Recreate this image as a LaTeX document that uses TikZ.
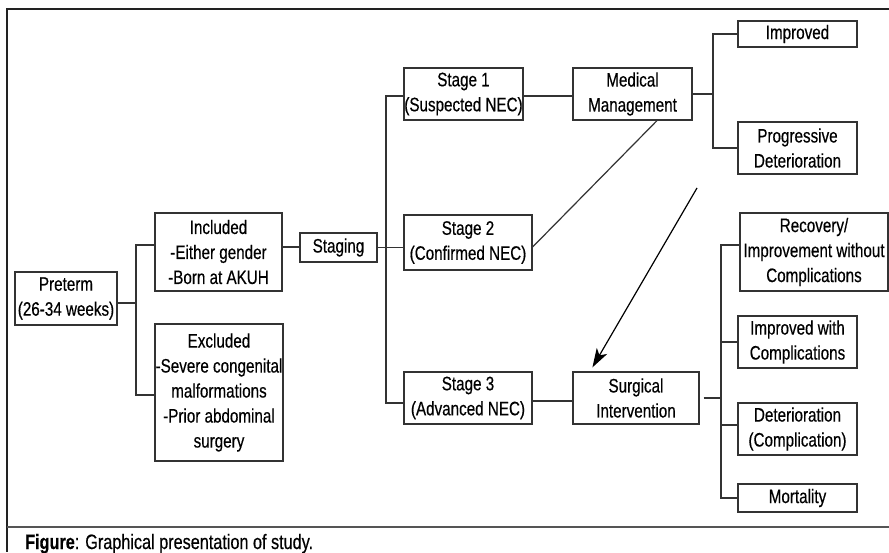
\documentclass[tikz,border=0pt]{standalone}
\usepackage{fontspec}
\setmainfont{Liberation Sans}[FakeStretch=0.78, FakeBold=0.4]
\usepackage{tikz}
\usetikzlibrary{arrows.meta, calc}

\definecolor{boxline}{HTML}{333333}
\definecolor{framecol}{HTML}{222222}
\definecolor{sepcol}{HTML}{555555}

\tikzset{
    box/.style={draw=boxline, line width=1.2pt, align=center, inner sep=0pt,
        font=\fontsize{19.5}{25}\selectfont},
    link/.style={draw=boxline, line width=1.2pt},
    frame/.style={draw=framecol, line width=2.2pt},
}

\begin{document}
\begin{tikzpicture}[x=1pt, y=-1pt]
            % Page and frame
            \fill[white] (0,0) rectangle (889,552);
            \useasboundingbox (0,0) rectangle (889,552);
            \draw[frame] (889,9) -- (7,9) -- (7,552);
            \draw[sepcol, line width=1.3pt] (7,527) -- (889,527);
            
            % Boxes
            \node[box, minimum width=102pt, minimum height=53pt] (pre) at (66,298.5) {Preterm\\(26-34 weeks)};
            \node[box, minimum width=127pt, minimum height=78pt] (inc) at (218.5,252) {Included\\-Either gender\\-Born at AKUH};
            \node[box, minimum width=128pt, minimum height=137pt] (exc) at (219,392.5) {Excluded\\-Severe congenital\\malformations\\-Prior abdominal\\surgery};
            \node[box, minimum width=77pt, minimum height=29pt] (stg) at (338.5,247.5) {Staging};
            \node[box, minimum width=119pt, minimum height=52pt] (st1) at (463.5,94) {Stage 1\\(Suspected NEC)};
            \node[box, minimum width=128pt, minimum height=55pt] (st2) at (468,242.5) {Stage 2\\(Confirmed NEC)};
            \node[box, minimum width=128pt, minimum height=52pt] (st3) at (468,398) {Stage 3\\(Advanced NEC)};
            \node[box, minimum width=119pt, minimum height=52pt] (med) at (632.5,94) {Medical\\Management};
            \node[box, minimum width=126pt, minimum height=52pt] (surg) at (636,398) {Surgical\\Intervention};
            \node[box, minimum width=119pt, minimum height=26pt] (imp) at (797.5,34) {Improved};
            \node[box, minimum width=119pt, minimum height=52pt] (prog) at (797.5,148) {Progressive\\Deterioration};
            \node[box, minimum width=148pt, minimum height=78pt] (rec) at (814,252) {Recovery/\\Improvement without\\Complications};
            \node[box, minimum width=119pt, minimum height=52pt] (iwc) at (797.5,342) {Improved with\\Complications};
            \node[box, minimum width=119pt, minimum height=52pt] (det) at (797.5,429) {Deterioration\\(Complication)};
            \node[box, minimum width=119pt, minimum height=28pt] (mort) at (797.5,498) {Mortality};
            
            % Branch points
            \coordinate (j1) at (136,0);
            \coordinate (j2) at (386,0);
            \coordinate (j3) at (713,0);
            \coordinate (j4) at (721,0);
            \coordinate (arrfrom) at (697,188);
            
            % Connectors
            \draw[link] ([yshift=-4.5pt]pre.east) -- ([yshift=-4.5pt]pre.east -| j1);
            \draw[link] ([yshift=7pt]inc.west) -| ([yshift=-2.5pt]j1 |- exc.west) -- ([yshift=-2.5pt]exc.west);
            \draw[link] ([yshift=5pt]inc.east) -- ([yshift=5pt]inc.east -| stg.west);
            \draw[link] (stg.east) -- (stg.east -| st2.west);
            \draw[link] ([yshift=-2pt]st1.west) -| ([yshift=-5pt]j2 |- st3.west) -- ([yshift=-5pt]st3.west);
            \draw[link] ([yshift=-2pt]st1.east) -- ([yshift=-2pt]med.west);
            \draw[link] ([yshift=-4.5pt]st2.east) -- ([xshift=24.5pt]med.south);
            \draw[link] ([yshift=-3pt]st3.east) -- ([yshift=-3pt]surg.west);
            \draw[link, draw=black, -{Stealth[length=19pt, width=12pt, inset=5pt]}] (arrfrom) -- ([xshift=20pt, yshift=4pt]surg.north west);
            \draw[link] (med.east) -- (med.east -| j3);
            \draw[link] (imp.west) -| (j3 |- prog.west) -- (prog.west);
            \draw[link] ([xshift=4pt]surg.east) -- (surg.east -| j4);
            \draw[link] ([yshift=7pt]rec.west) -| (j4 |- mort.west) -- (mort.west);
            \draw[link] (iwc.west) -- (iwc.west -| j4);
            \draw[link] ([yshift=4pt]det.west) -- ([yshift=4pt]det.west -| j4);
            
            % Caption
            \node[anchor=base west, inner sep=0pt, font=\fontsize{20.8}{24}\selectfont] (cap) at (25,549)
                {\textbf{Figure}: Graphical presentation of study.};
        \end{tikzpicture}
\end{document}
